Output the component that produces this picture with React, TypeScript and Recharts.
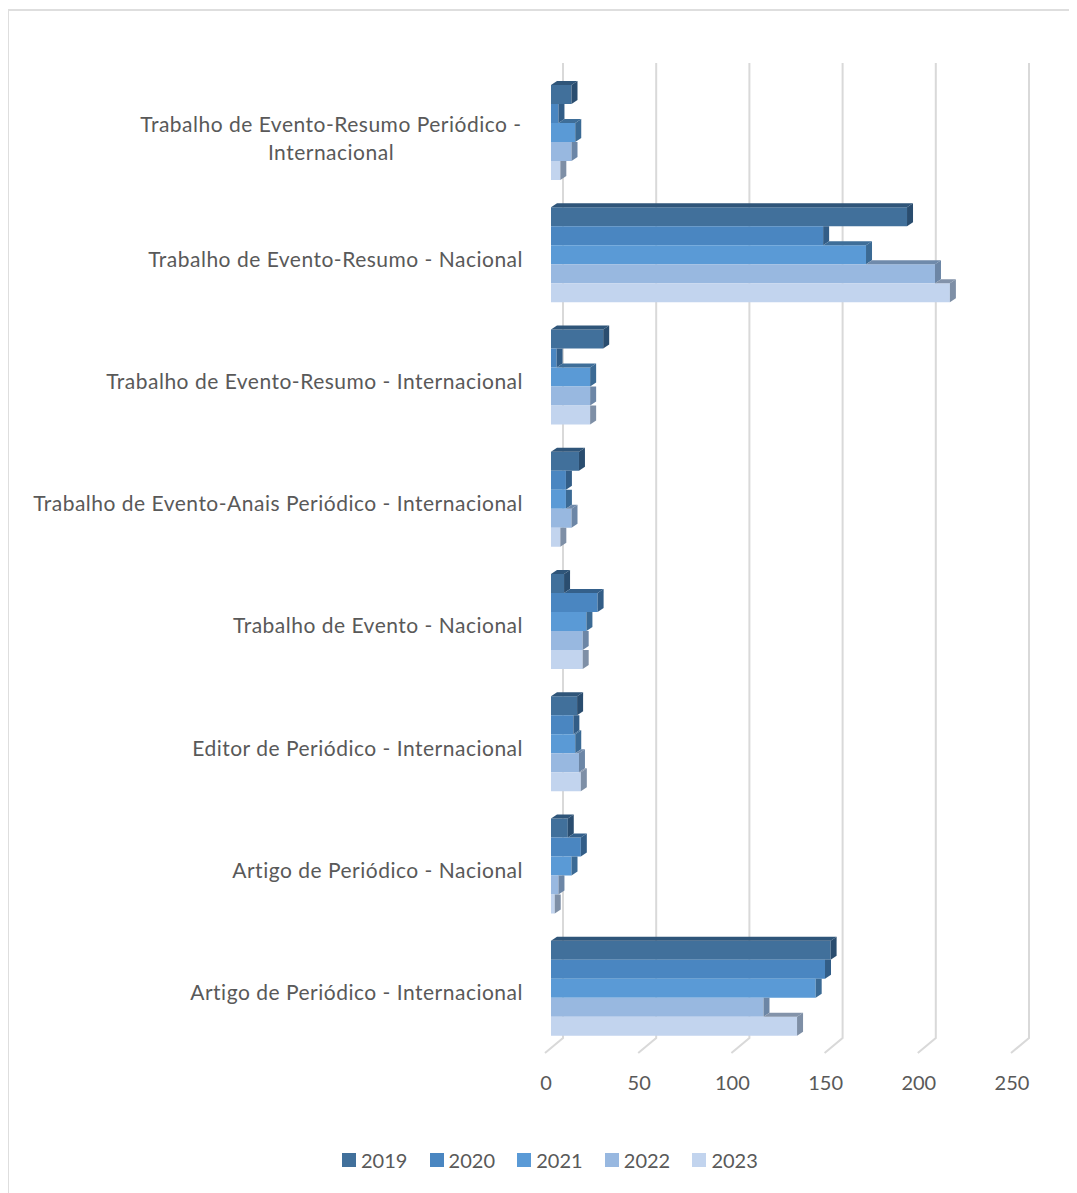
import React from 'react';
import { BarChart, Bar, XAxis, YAxis, CartesianGrid } from 'recharts';

const categories = [
  'Trabalho de Evento-Resumo Periódico - Internacional',
  'Trabalho de Evento-Resumo - Nacional',
  'Trabalho de Evento-Resumo - Internacional',
  'Trabalho de Evento-Anais Periódico - Internacional',
  'Trabalho de Evento - Nacional',
  'Editor de Periódico - Internacional',
  'Artigo de Periódico - Nacional',
  'Artigo de Periódico - Internacional',
];

const years = ['2019', '2020', '2021', '2022', '2023'];

const values2019 = [11, 191, 28, 15, 7, 14, 9, 150];
const values2020 = [4, 146, 3, 8, 25, 12, 16, 147];
const values2021 = [13, 169, 21, 8, 19, 13, 11, 142];
const values2022 = [11, 206, 21, 11, 17, 15, 4, 114];
const values2023 = [5, 214, 21, 5, 17, 16, 2, 132];

const xTicks = [0, 50, 100, 150, 200, 250];

const seriesValues = [values2019, values2020, values2021, values2022, values2023];

// front, top, side
const palette = [
  { front: '#41709b', top: '#2f5579', side: '#2a4d6f' },
  { front: '#4a86c1', top: '#34608b', side: '#325d87' },
  { front: '#5a9ad6', top: '#3e6e99', side: '#3b6a94' },
  { front: '#98b8e0', top: '#6f8aab', side: '#6c86a6' },
  { front: '#c2d4ee', top: '#8393aa', side: '#7e8fa6' },
];

const data = categories.map((name, i) => {
  const row: any = { name };
  years.forEach((y, s) => (row[y] = seriesValues[s][i]));
  return row;
});

const FONT = 'Lato, "Open Sans", sans-serif';
const TEXT = '#595959';
const DX = 6;
const DY = 4;

const Bar3D = (props: any) => {
  const { x, y, width, height, payload, seriesIndex } = props;
  if (!width || width <= 0) return null;
  const c = palette[seriesIndex];
  const value = payload[years[seriesIndex]];
  const ppu = width / value;
  const prevW = seriesIndex > 0 ? payload[years[seriesIndex - 1]] * ppu : 0;
  const longer = width > prevW;
  const xr = x + width;
  return (
    <g>
      <rect x={x} y={y} width={width} height={height} fill={c.front} />
      {longer && (
        <polygon
          points={`${x + prevW},${y} ${xr},${y} ${xr + DX},${y - DY} ${x + prevW + DX},${y - DY}`}
          fill={c.top}
        />
      )}
      <polygon
        points={
          longer
            ? `${xr},${y} ${xr},${y + height} ${xr + DX},${y + height - DY} ${xr + DX},${y - DY}`
            : `${xr},${y} ${xr},${y + height} ${xr + DX},${y + height - DY} ${xr + DX},${y}`
        }
        fill={c.side}
      />
    </g>
  );
};

const splitLabel = (s: string) => {
  if (s.length <= 50) return [s];
  const i = s.lastIndexOf(' - ');
  return [s.slice(0, i + 2), s.slice(i + 3)];
};

const CategoryTick = (props: any) => {
  const { x, y, payload } = props;
  const lines = splitLabel(payload.value);
  if (lines.length === 1) {
    return (
      <text
        x={x - 20}
        y={y + 5}
        dy="0.35em"
        textAnchor="end"
        fill={TEXT}
        fontSize={21}
        fontFamily={FONT}
        letterSpacing={0.5}
      >
        {lines[0]}
      </text>
    );
  }
  const cx = 331 - 8;
  return (
    <text textAnchor="middle" fill={TEXT} fontSize={21} fontFamily={FONT} letterSpacing={0.5}>
      <tspan x={cx} y={y - 7} dy="0.35em">{lines[0]}</tspan>
      <tspan x={cx} y={y + 21} dy="0.35em">{lines[1]}</tspan>
    </text>
  );
};

const ValueTick = (props: any) => {
  const { x, payload } = props;
  return (
    <text x={x - 5} y={1075} dy="0.35em" textAnchor="middle" fill={TEXT} fontSize={20} fontFamily={FONT}>
      {payload.value}
    </text>
  );
};

const GridLine = (props: any) => {
  const { x1, y1, y2 } = props;
  return (
    <path
      key={`g-${x1}`}
      d={`M${x1 + 12},${y1 - 8} L${x1 + 12},${y2 - 11} L${x1 - 6},${y2 + 4}`}
      stroke="#d9d9d9"
      strokeWidth={2}
      fill="none"
    />
  );
};

export default function App() {
  return (
    <div style={{ position: 'relative', width: 1069, height: 1185, overflow: 'hidden', background: '#fff' }}>
      <div
        style={{
          position: 'absolute',
          left: -1,
          top: 1,
          width: 1200,
          height: 1300,
          border: '2px solid #dedede',
          boxSizing: 'border-box',
        }}
      />
      <div style={{ position: 'absolute', left: 0, top: 0 }}>
        <BarChart
          width={1069}
          height={1185}
          data={data}
          layout="vertical"
          margin={{ top: 63, right: 60, bottom: 104, left: 0 }}
          barGap={0}
        >
          <CartesianGrid horizontal={false} vertical={GridLine as any} />
          <XAxis
            type="number"
            domain={[0, 250]}
            ticks={xTicks}
            axisLine={false}
            tickLine={false}
            height={40}
            tick={<ValueTick />}
            interval={0}
          />
          <YAxis
            type="category"
            dataKey="name"
            width={543}
            axisLine={false}
            tickLine={false}
            tick={<CategoryTick />}
            interval={0}
          />
          {years.map((yr, i) => (
            <Bar
              key={yr}
              dataKey={yr}
              barSize={19}
              fill={palette[i].front}
              isAnimationActive={false}
              shape={(p: any) => <Bar3D {...p} seriesIndex={i} />}
            />
          ))}
        </BarChart>
      </div>
      <div
        style={{
          position: 'absolute',
          left: 334,
          top: 1140,
          display: 'flex',
          fontFamily: FONT,
          fontSize: 20,
          color: TEXT,
          lineHeight: '24px',
        }}
      >
        {years.map((yr, i) => (
          <div key={yr} style={{ display: 'flex', alignItems: 'center', width: 87.6 }}>
            <span style={{ display: 'inline-block', width: 14, height: 14, background: palette[i].front, marginRight: 5 }} />
            <span>{yr}</span>
          </div>
        ))}
      </div>
    </div>
  );
}
